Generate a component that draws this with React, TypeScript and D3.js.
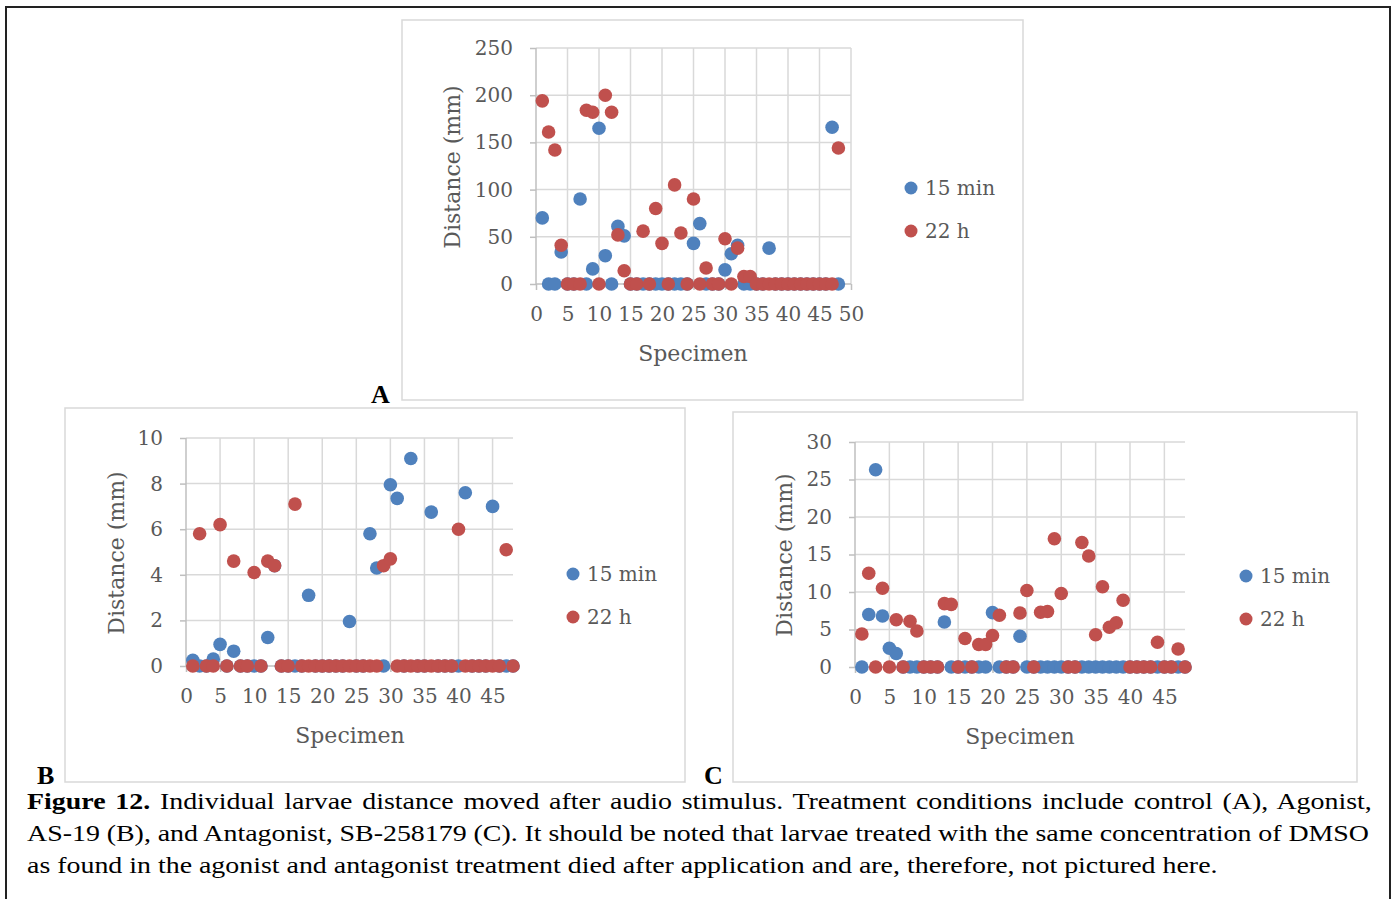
import React, { useEffect, useRef } from 'react';
import * as d3 from 'd3';

// specimen numbers (x values), shared by all three panels
const specimen = [
    1, 2, 3, 4, 5, 6, 7, 8, 9, 10, 11, 12, 13, 14, 15, 16,
    17, 18, 19, 20, 21, 22, 23, 24, 25, 26, 27, 28, 29, 30, 31, 32,
    33, 34, 35, 36, 37, 38, 39, 40, 41, 42, 43, 44, 45, 46, 47, 48,
];

// A - control
const control15min = [
    70, 0, 0, 34, 0, 0, 90, 0, 16, 165, 30, 0, 61, 51, 0, 0,
    0, 0, 0, 0, 0, 0, 0, 0, 43, 64, 0, 0, 0, 15, 32, 41,
    0, 0, 0, 0, 38, 0, 0, 0, 0, 0, 0, 0, 0, 0, 166, 0,
];
const control22h = [
    194, 161, 142, 41, 0, 0, 0, 184, 182, 0, 200, 182, 52, 14, 0, 0,
    56, 0, 80, 43, 0, 105, 54, 0, 90, 0, 17, 0, 0, 48, 0, 38,
    8, 8, 0, 0, 0, 0, 0, 0, 0, 0, 0, 0, 0, 0, 0, 144,
];

// B - agonist AS-19
const agonist15min = [
    0.25, 0, 0, 0.3, 0.95, 0, 0.65, 0, 0, 0, 0, 1.25, 4.4, 0, 0, 0,
    0, 3.1, 0, 0, 0, 0, 0, 1.95, 0, 0, 5.8, 4.3, 0, 7.95, 7.35, 0,
    9.1, 0, 0, 6.75, 0, 0, 0, 0, 7.6, 0, 0, 0, 7.0, 0, 0, 0,
];
const agonist22h = [
    0, 5.8, 0, 0, 6.2, 0, 4.6, 0, 0, 4.1, 0, 4.6, 4.4, 0, 0, 7.1,
    0, 0, 0, 0, 0, 0, 0, 0, 0, 0, 0, 0, 4.4, 4.7, 0, 0,
    0, 0, 0, 0, 0, 0, 0, 6.0, 0, 0, 0, 0, 0, 0, 5.1, 0,
];

// C - antagonist SB-258179
const antagonist15min = [
    0, 7.0, 26.3, 6.8, 2.5, 1.8, 0, 0, 0, 0, 0, 0, 6.0, 0, 0, 0,
    0, 0, 0, 7.25, 0, 0, 0, 4.1, 0, 0, 0, 0, 0, 0, 0, 0,
    0, 0, 0, 0, 0, 0, 0, 0, 0, 0, 0, 0, 0, 0, 0, 0,
];
const antagonist22h = [
    4.4, 12.5, 0, 10.5, 0, 6.3, 0, 6.1, 4.8, 0, 0, 0, 8.45, 8.35, 0, 3.8,
    0, 3.0, 3.0, 4.2, 6.9, 0, 0, 7.2, 10.2, 0, 7.3, 7.4, 17.1, 9.8, 0, 0,
    16.6, 14.8, 4.3, 10.7, 5.3, 5.9, 8.9, 0, 0, 0, 0, 3.3, 0, 0, 2.4, 0,
];

const seriesNames = ['15 min', '22 h'];
const seriesColors = ['#4F81BD', '#C0504D'];

const xTicksA = [0, 5, 10, 15, 20, 25, 30, 35, 40, 45, 50];
const xTicksBC = [0, 5, 10, 15, 20, 25, 30, 35, 40, 45];
const yTicksA = [0, 50, 100, 150, 200, 250];
const yTicksB = [0, 2, 4, 6, 8, 10];
const yTicksC = [0, 5, 10, 15, 20, 25, 30];

const captionBold = 'Figure 12.';
const captionLines = [
    ' Individual larvae distance moved after audio stimulus. Treatment conditions include control (A), Agonist,',
    'AS-19 (B), and Antagonist, SB-258179 (C). It should be noted that larvae treated with the same concentration of DMSO',
    'as found in the agonist and antagonist treatment died after application and are, therefore, not pictured here.',
];

const chartFont = "'DejaVu Serif', serif";
const paperFont = "'Liberation Serif', 'Times New Roman', serif";

const panels = [
    {
        letter: 'A', letterX: 371, letterY: 403,
        box: [402, 20, 621, 380],
        left: 536, right: 851, top: 48, bottom: 284,
        xMax: 50, yMax: 250, xTicks: xTicksA, yTicks: yTicksA,
        s1: control15min, s2: control22h,
        xTitle: [693, 361], yTitle: [452, 167],
        legendX: 911, legendY: [188, 231],
    },
    {
        letter: 'B', letterX: 37, letterY: 784,
        box: [65, 408, 620, 374],
        left: 186, right: 513, top: 438, bottom: 666,
        xMax: 48, yMax: 10, xTicks: xTicksBC, yTicks: yTicksB,
        s1: agonist15min, s2: agonist22h,
        xTitle: [350, 743], yTitle: [116, 553],
        legendX: 573, legendY: [574, 617],
    },
    {
        letter: 'C', letterX: 704, letterY: 784,
        box: [733, 412, 624, 370],
        left: 855, right: 1185, top: 442, bottom: 667,
        xMax: 48, yMax: 30, xTicks: xTicksBC, yTicks: yTicksC,
        s1: antagonist15min, s2: antagonist22h,
        xTitle: [1020, 744], yTitle: [784, 555],
        legendX: 1246, legendY: [576, 619],
    },
];

function drawPanel(svg: any, p: any) {
    const g = svg.append('g');
    g.append('rect')
        .attr('x', p.box[0])
        .attr('y', p.box[1])
        .attr('width', p.box[2])
        .attr('height', p.box[3])
        .attr('fill', '#fff')
        .attr('stroke', '#d9d9d9')
        .attr('stroke-width', 1.5);

    const x = d3.scaleLinear().domain([0, p.xMax]).range([p.left, p.right]);
    const y = d3.scaleLinear().domain([0, p.yMax]).range([p.bottom, p.top]);

    // gridlines
    g.append('g')
        .selectAll('line')
        .data(p.yTicks.filter((t: number) => t > 0))
        .join('line')
        .attr('x1', p.left)
        .attr('x2', p.right)
        .attr('y1', (d: number) => y(d))
        .attr('y2', (d: number) => y(d))
        .attr('stroke', '#d9d9d9')
        .attr('stroke-width', 1.5);
    g.append('g')
        .selectAll('line')
        .data(p.xTicks.filter((t: number) => t > 0))
        .join('line')
        .attr('x1', (d: number) => x(d))
        .attr('x2', (d: number) => x(d))
        .attr('y1', p.top)
        .attr('y2', p.bottom)
        .attr('stroke', '#d9d9d9')
        .attr('stroke-width', 1.5);

    const yAxis = g.append('g')
        .attr('transform', 'translate(' + p.left + ',0)')
        .call(d3.axisLeft(y).tickValues(p.yTicks).tickSize(6).tickPadding(17));
    const xAxis = g.append('g')
        .attr('transform', 'translate(0,' + p.bottom + ')')
        .call(d3.axisBottom(x).tickValues(p.xTicks).tickSize(6).tickPadding(17));
    [yAxis, xAxis].forEach(a => {
        a.select('.domain').attr('stroke', '#bfbfbf').attr('stroke-width', 1.5);
        a.selectAll('.tick line').attr('stroke', '#bfbfbf').attr('stroke-width', 1.5);
        a.selectAll('.tick text')
            .attr('fill', '#595959')
            .style('font-family', chartFont)
            .style('font-size', '20px');
    });
    // domain path draws outer ticks; redraw as a straight line
    yAxis.select('.domain').attr('d', 'M0,' + p.top + 'V' + p.bottom);
    xAxis.select('.domain').attr('d', 'M' + p.left + ',0H' + p.right);

    // points: 15 min first, 22 h on top
    [p.s1, p.s2].forEach((vals: number[], k: number) => {
        g.append('g')
            .attr('fill', seriesColors[k])
            .selectAll('circle')
            .data(vals)
            .join('circle')
            .attr('cx', (d: number, i: number) => x(specimen[i]))
            .attr('cy', (d: number) => y(d))
            .attr('r', 6.8);
    });

    g.append('text')
        .attr('x', p.xTitle[0])
        .attr('y', p.xTitle[1])
        .attr('text-anchor', 'middle')
        .attr('fill', '#595959')
        .style('font-family', chartFont)
        .style('font-size', '22px')
        .text('Specimen');
    g.append('text')
        .attr('transform', 'translate(' + p.yTitle[0] + ',' + p.yTitle[1] + ') rotate(-90)')
        .attr('text-anchor', 'middle')
        .attr('dominant-baseline', 'central')
        .attr('fill', '#595959')
        .style('font-family', chartFont)
        .style('font-size', '22px')
        .text('Distance (mm)');

    seriesNames.forEach((name, k) => {
        g.append('circle')
            .attr('cx', p.legendX)
            .attr('cy', p.legendY[k])
            .attr('r', 6.5)
            .attr('fill', seriesColors[k]);
        g.append('text')
            .attr('x', p.legendX + 14)
            .attr('y', p.legendY[k])
            .attr('dominant-baseline', 'central')
            .attr('fill', '#595959')
            .style('font-family', chartFont)
            .style('font-size', '20px')
            .text(name);
    });

    svg.append('text')
        .attr('x', p.letterX)
        .attr('y', p.letterY)
        .attr('fill', '#000')
        .style('font-family', paperFont)
        .style('font-weight', 'bold')
        .style('font-size', '26px')
        .text(p.letter);
}

const App = () => {
    const ref = useRef<SVGSVGElement>(null);

    useEffect(() => {
        const svg = d3.select(ref.current);
        svg.selectAll('*').remove();

        // page frame
        svg.append('path')
            .attr('d', 'M6,899V7H1390V899')
            .attr('fill', 'none')
            .attr('stroke', '#222')
            .attr('stroke-width', 2);

        panels.forEach(p => drawPanel(svg, p));

        // caption: the scan is wider than the type, so stretch horizontally;
        // first two lines justified
        const left = 27;
        const right = 1369;
        const lastLineEnd = 1218;
        const baselines = [809, 841, 873];
        const cap = svg.append('g');
        const texts = captionLines.map((line, i) => {
            const t = cap.append('text')
                .attr('x', 0)
                .attr('y', baselines[i])
                .attr('fill', '#000')
                .style('font-family', paperFont)
                .style('font-size', '24px')
                .style('white-space', 'pre');
            if (i === 0) {
                t.append('tspan').style('font-weight', 'bold').text(captionBold);
            }
            t.append('tspan').text(line);
            return t;
        });
        const len3 = (texts[2].node() as SVGTextElement).getComputedTextLength();
        const sx = (lastLineEnd - left) / len3;
        cap.attr('transform', 'translate(' + left + ',0) scale(' + sx + ',1)');
        texts.slice(0, 2).forEach((t, i) => {
            const len = (t.node() as SVGTextElement).getComputedTextLength();
            const gaps = (captionLines[i].match(/ /g) || []).length;
            t.style('word-spacing', ((right - left) / sx - len) / gaps + 'px');
        });
    }, []);

    return (
        <svg
            ref={ref}
            width={1395}
            height={899}
            style={{ position: 'absolute', left: 0, top: 0, background: '#fff' }}
        />
    );
};

export default App;
